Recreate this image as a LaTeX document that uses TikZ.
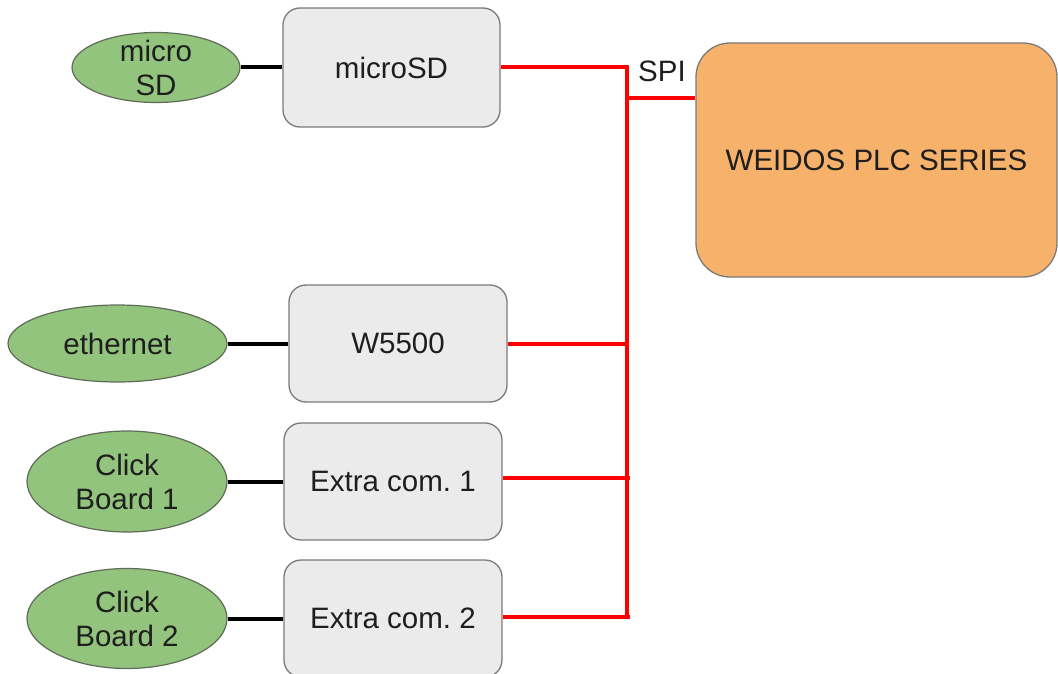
\documentclass[tikz,border=0pt]{standalone}
\usepackage{fontspec}
\setmainfont{Liberation Sans}
\usetikzlibrary{shapes.geometric}
\definecolor{boxfill}{HTML}{EBEBEB}
\definecolor{boxline}{HTML}{7A7A7A}
\definecolor{ellfill}{HTML}{93C47D}
\definecolor{ellline}{HTML}{5E6B58}
\definecolor{plcfill}{HTML}{F6B26B}
\definecolor{txt}{HTML}{1E1E1E}
\definecolor{busred}{HTML}{FF0000}
\frenchspacing
\begin{document}
\begin{tikzpicture}[x=1pt,y=-1pt,
 every node/.style={font=\fontsize{29.5}{34}\selectfont, text=txt, inner sep=0pt},
 modbox/.style={draw=boxline, fill=boxfill, line width=1.3pt, rounded corners=17pt, minimum width=218pt, minimum height=117pt},
 ext/.style={ellipse, draw=ellline, fill=ellfill, line width=1.2pt},
 bus/.style={draw=busred, line width=4pt},
 link/.style={draw=black, line width=4pt}]
\useasboundingbox (0,0) rectangle (1058,674);
% module boxes
\node[modbox, minimum width=217pt, minimum height=119pt] (msd) at (391.5,67.5) {microSD};
\node[modbox] (w5500) at (398,343.5) {W5500};
\node[modbox] (ec1) at (393,481.5) {Extra com. 1};
\node[modbox] (ec2) at (393,618.5) {Extra com. 2};
% PLC
\node[draw=boxline, fill=plcfill, rounded corners=34pt, line width=1.3pt, minimum width=361pt, minimum height=234pt] (plc) at (876.5,160) {WEIDOS PLC SERIES};
% external ellipses
\node[ext, minimum width=168pt, minimum height=70pt, label={[align=center]center:micro\\SD}] (sd) at (156,67.5) {};
\node[ext, minimum width=219pt, minimum height=77pt] (eth) at (117.5,343.5) {ethernet};
\node[ext, minimum width=200pt, minimum height=101pt, label={[align=center]center:Click\\Board 1}] (cb1) at (127,481.5) {};
\node[ext, minimum width=200pt, minimum height=100pt, label={[align=center]center:Click\\Board 2}] (cb2) at (127,618.5) {};
% black links
\draw[link] (sd.east) -- (msd.west);
\draw[link] (eth.east) -- (w5500.west);
\draw[link] (cb1.east) -- (ec1.west);
\draw[link] (cb2.east) -- (ec2.west);
% SPI bus
\coordinate (bb) at (627,617);
\coordinate (spi) at (627,98);
\coordinate (j1) at (627,343.5);
\coordinate (j2) at (630,478);
\coordinate (j3) at (630,617);
\draw[bus] (msd.east) -| (bb);
\draw[bus] (spi) -- (spi -| plc.west);
\draw[bus] (w5500.east) -- (j1);
\draw[bus] (ec1.east |- j2) -- (j2);
\draw[bus] (ec2.east |- j3) -- (j3);
\node (spilbl) at (662,71) {SPI};
\end{tikzpicture}
\end{document}
